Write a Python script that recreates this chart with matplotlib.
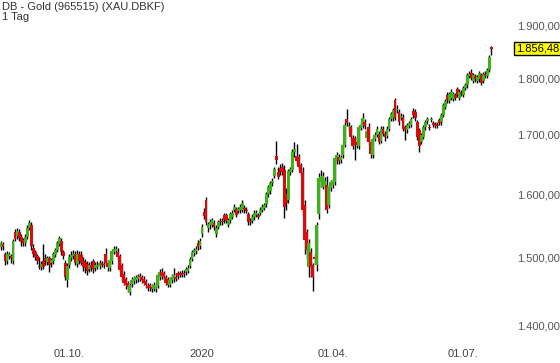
import matplotlib
matplotlib.use('Agg')
import matplotlib.pyplot as plt
from matplotlib.ticker import FixedLocator, NullLocator
import pandas as pd

title = 'DB - Gold (965515) (XAU.DBKF)'
interval = '1 Tag'
dates = pd.bdate_range('2019-08-15', '2020-07-22')

opens = [
  1516, 1521, 1506, 1494, 1503, 1502, 1495, 1540, 1533, 1540, 1532, 1527, 1522, 1532, 1546, 1551, 1514, 1508, 1503, 1487,
  1485, 1495, 1499, 1493, 1499, 1492, 1494, 1504, 1512, 1520, 1526, 1509, 1492, 1466, 1488, 1499, 1503, 1505, 1490, 1505,
  1504, 1494, 1493, 1490, 1482, 1489, 1494, 1484, 1486, 1487, 1491, 1490, 1506, 1492, 1484, 1494, 1509, 1510, 1508, 1502,
  1488, 1475, 1468, 1462, 1448, 1460, 1464, 1466, 1467, 1472, 1470, 1468, 1464, 1457, 1458, 1456, 1453, 1452, 1457, 1470,
  1478, 1476, 1470, 1467, 1459, 1466, 1467, 1471, 1476, 1476, 1477, 1477, 1478, 1480, 1487, 1498, 1507, 1510, 1523, 1517,
  1536, 1572, 1591, 1546, 1550, 1551, 1553, 1536, 1548, 1557, 1557, 1566, 1566, 1551, 1558, 1564, 1575, 1576, 1573, 1574,
  1575, 1578, 1575, 1568, 1557, 1557, 1563, 1567, 1566, 1570, 1575, 1578, 1584, 1600, 1605, 1618, 1630, 1664, 1636, 1643,
  1645, 1640, 1600, 1590, 1636, 1640, 1670, 1664, 1662, 1648, 1636, 1583, 1540, 1485, 1508, 1488, 1500, 1488, 1568, 1620,
  1612, 1615, 1615, 1583, 1610, 1615, 1620, 1656, 1662, 1657, 1665, 1683, 1727, 1713, 1714, 1694, 1694, 1688, 1680, 1712,
  1717, 1722, 1695, 1714, 1687, 1666, 1693, 1700, 1702, 1690, 1710, 1702, 1698, 1711, 1728, 1729, 1762, 1743, 1740, 1730,
  1732, 1713, 1708, 1716, 1717, 1742, 1740, 1722, 1708, 1688, 1697, 1713, 1724, 1714, 1726, 1721, 1719, 1718, 1726, 1722,
  1735, 1749, 1771, 1760, 1766, 1764, 1771, 1782, 1766, 1775, 1771, 1783, 1788, 1806, 1811, 1797, 1805, 1797, 1799, 1807,
  1796, 1810, 1805, 1817, 1860,
]
highs = [
  1526, 1524, 1509, 1510, 1509, 1506, 1528, 1545, 1546, 1545, 1537, 1530, 1536, 1550, 1558, 1556, 1520, 1512, 1506, 1500,
  1494, 1521, 1505, 1503, 1503, 1499, 1508, 1515, 1525, 1534, 1530, 1512, 1496, 1492, 1505, 1510, 1512, 1510, 1512, 1510,
  1510, 1500, 1497, 1494, 1493, 1494, 1498, 1493, 1494, 1496, 1495, 1494, 1514, 1496, 1498, 1513, 1517, 1518, 1514, 1506,
  1492, 1479, 1471, 1465, 1462, 1470, 1472, 1474, 1475, 1477, 1474, 1472, 1468, 1461, 1462, 1460, 1463, 1461, 1477, 1482,
  1484, 1480, 1474, 1470, 1470, 1475, 1484, 1476, 1480, 1480, 1481, 1481, 1486, 1488, 1500, 1511, 1515, 1517, 1527, 1530,
  1552, 1578, 1595, 1556, 1560, 1562, 1558, 1550, 1559, 1561, 1562, 1570, 1570, 1562, 1572, 1574, 1584, 1580, 1580, 1584,
  1590, 1582, 1579, 1572, 1561, 1568, 1574, 1574, 1570, 1579, 1584, 1586, 1604, 1616, 1622, 1626, 1646, 1689, 1645, 1650,
  1652, 1648, 1610, 1642, 1646, 1675, 1688, 1685, 1668, 1652, 1645, 1590, 1545, 1528, 1515, 1492, 1505, 1555, 1635, 1640,
  1636, 1628, 1630, 1616, 1624, 1626, 1664, 1670, 1668, 1666, 1686, 1722, 1745, 1722, 1718, 1700, 1698, 1694, 1718, 1722,
  1738, 1728, 1712, 1720, 1692, 1697, 1705, 1715, 1706, 1715, 1715, 1707, 1716, 1732, 1740, 1748, 1766, 1752, 1745, 1738,
  1736, 1718, 1721, 1724, 1732, 1748, 1745, 1726, 1712, 1704, 1717, 1726, 1732, 1719, 1732, 1725, 1723, 1722, 1730, 1739,
  1757, 1764, 1776, 1776, 1781, 1776, 1775, 1786, 1781, 1779, 1787, 1792, 1811, 1814, 1818, 1811, 1809, 1807, 1815, 1811,
  1813, 1814, 1821, 1844, 1862,
]
lows = [
  1511, 1512, 1488, 1490, 1498, 1492, 1490, 1525, 1528, 1525, 1518, 1517, 1518, 1528, 1542, 1512, 1500, 1496, 1490, 1482,
  1481, 1483, 1488, 1489, 1478, 1486, 1490, 1500, 1508, 1517, 1504, 1497, 1466, 1455, 1484, 1494, 1498, 1488, 1486, 1490,
  1488, 1480, 1477, 1474, 1478, 1480, 1476, 1480, 1482, 1483, 1485, 1484, 1488, 1480, 1480, 1490, 1505, 1506, 1496, 1478,
  1466, 1458, 1452, 1448, 1443, 1456, 1460, 1462, 1463, 1465, 1462, 1458, 1454, 1450, 1449, 1448, 1450, 1448, 1454, 1466,
  1468, 1466, 1458, 1455, 1455, 1462, 1463, 1464, 1468, 1470, 1470, 1471, 1474, 1476, 1484, 1495, 1503, 1506, 1512, 1513,
  1532, 1560, 1550, 1540, 1545, 1547, 1542, 1532, 1544, 1551, 1551, 1554, 1553, 1547, 1554, 1560, 1571, 1563, 1569, 1570,
  1571, 1570, 1569, 1550, 1551, 1553, 1559, 1563, 1560, 1566, 1571, 1574, 1580, 1596, 1601, 1613, 1626, 1650, 1625, 1632,
  1632, 1562, 1575, 1586, 1632, 1636, 1662, 1650, 1640, 1630, 1565, 1505, 1497, 1470, 1470, 1450, 1490, 1480, 1560, 1612,
  1608, 1610, 1570, 1578, 1605, 1610, 1616, 1650, 1650, 1652, 1660, 1679, 1715, 1706, 1692, 1675, 1657, 1678, 1676, 1708,
  1712, 1710, 1690, 1682, 1660, 1660, 1689, 1696, 1684, 1686, 1698, 1690, 1694, 1707, 1724, 1725, 1726, 1738, 1718, 1726,
  1706, 1691, 1704, 1712, 1713, 1730, 1724, 1692, 1670, 1684, 1693, 1709, 1719, 1708, 1722, 1713, 1712, 1712, 1717, 1718,
  1731, 1745, 1757, 1756, 1762, 1760, 1762, 1767, 1762, 1768, 1767, 1779, 1784, 1802, 1798, 1793, 1795, 1793, 1795, 1788,
  1792, 1801, 1801, 1813, 1845,
]
closes = [
  1522, 1516, 1494, 1505, 1506, 1499, 1526, 1528, 1541, 1530, 1524, 1522, 1532, 1546, 1554, 1517, 1505, 1500, 1495, 1485,
  1490, 1486, 1494, 1499, 1488, 1496, 1505, 1512, 1522, 1530, 1508, 1502, 1470, 1487, 1500, 1504, 1506, 1492, 1505, 1494,
  1492, 1486, 1484, 1480, 1489, 1484, 1482, 1489, 1489, 1492, 1489, 1488, 1492, 1485, 1494, 1510, 1513, 1513, 1500, 1481,
  1470, 1462, 1458, 1455, 1458, 1466, 1468, 1470, 1471, 1470, 1466, 1462, 1458, 1454, 1454, 1452, 1459, 1457, 1474, 1478,
  1472, 1470, 1462, 1459, 1466, 1471, 1473, 1468, 1472, 1474, 1474, 1475, 1482, 1484, 1497, 1508, 1511, 1513, 1516, 1526,
  1548, 1565, 1556, 1552, 1556, 1558, 1547, 1546, 1555, 1555, 1555, 1558, 1557, 1558, 1568, 1570, 1580, 1567, 1576, 1580,
  1585, 1574, 1573, 1555, 1555, 1564, 1570, 1570, 1564, 1575, 1580, 1582, 1600, 1612, 1618, 1622, 1642, 1657, 1629, 1636,
  1636, 1580, 1585, 1638, 1642, 1670, 1676, 1655, 1645, 1635, 1575, 1527, 1511, 1522, 1485, 1470, 1497, 1550, 1627, 1628,
  1630, 1622, 1575, 1612, 1620, 1622, 1660, 1665, 1656, 1662, 1682, 1717, 1721, 1716, 1697, 1680, 1683, 1683, 1714, 1718,
  1730, 1715, 1707, 1687, 1668, 1693, 1700, 1710, 1688, 1710, 1702, 1696, 1711, 1728, 1736, 1744, 1730, 1746, 1723, 1734,
  1711, 1708, 1717, 1720, 1728, 1735, 1729, 1697, 1680, 1700, 1713, 1722, 1728, 1712, 1728, 1717, 1716, 1716, 1721, 1735,
  1753, 1760, 1762, 1772, 1777, 1772, 1766, 1771, 1777, 1772, 1783, 1788, 1807, 1810, 1802, 1807, 1799, 1803, 1811, 1792,
  1809, 1805, 1817, 1840, 1856.48,
]
yticks = [1400, 1500, 1600, 1700, 1800, 1900]
xtick_dates = ['2019-10-01', '2020-01-01', '2020-04-01', '2020-07-01']
xtick_labels = ['01.10.', '2020', '01.04.', '01.07.']
last_label = '1.856,48'

green = '#3cb414'
red = '#dc0a0a'


def de_num(v):
  return f'{v:,.2f}'.replace(',', 'X').replace('.', ',').replace('X', '.')


plt.rcParams['font.family'] = ['Liberation Sans', 'DejaVu Sans']
fig = plt.figure(figsize=(5.6, 3.63), dpi=100)
ax = fig.add_axes([0, 28 / 363, 512 / 560, 335 / 363])

idx = list(range(len(closes)))
ax.vlines(idx, lows, highs, color='black', linewidth=1.0, zorder=1)
bottoms = [min(o, c) for o, c in zip(opens, closes)]
heights = [max(abs(c - o), 2.0) for o, c in zip(opens, closes)]
colors = [green if c >= o else red for o, c in zip(opens, closes)]
ax.bar(idx, heights, bottom=bottoms, width=1.4, color=colors, linewidth=0, zorder=2)

ax.set_yscale('log')
ax.set_ylim(1385.8, 1951.1)
ax.set_xlim(-0.5, 254.2)
ax.yaxis.set_major_locator(FixedLocator(yticks))
ax.yaxis.set_minor_locator(NullLocator())
ax.set_yticklabels([de_num(v) for v in yticks])
ax.yaxis.tick_right()
ax.tick_params(axis='y', length=0, pad=4, labelsize=8, labelcolor='#555555')

xt = [int(dates.searchsorted(pd.Timestamp(d))) + 1 for d in xtick_dates]
ax.set_xticks(xt)
ax.set_xticklabels(xtick_labels)
ax.tick_params(axis='x', length=0, pad=10, labelsize=8, labelcolor='#444444')
for s in ax.spines.values():
  s.set_visible(False)

ax.text(1.008, closes[-1], de_num(closes[-1]), transform=ax.get_yaxis_transform(),
        ha='left', va='center', fontsize=8, color='black',
        bbox=dict(boxstyle='square,pad=0.15', facecolor='#ffff00', edgecolor='black', linewidth=1))

fig.text(2 / 560, 1 - 2 / 363, title, ha='left', va='top', fontsize=8, color='#333333')
fig.text(2 / 560, 1 - 12 / 363, interval, ha='left', va='top', fontsize=8, color='#333333')

fig.savefig('out.png', dpi=100)
